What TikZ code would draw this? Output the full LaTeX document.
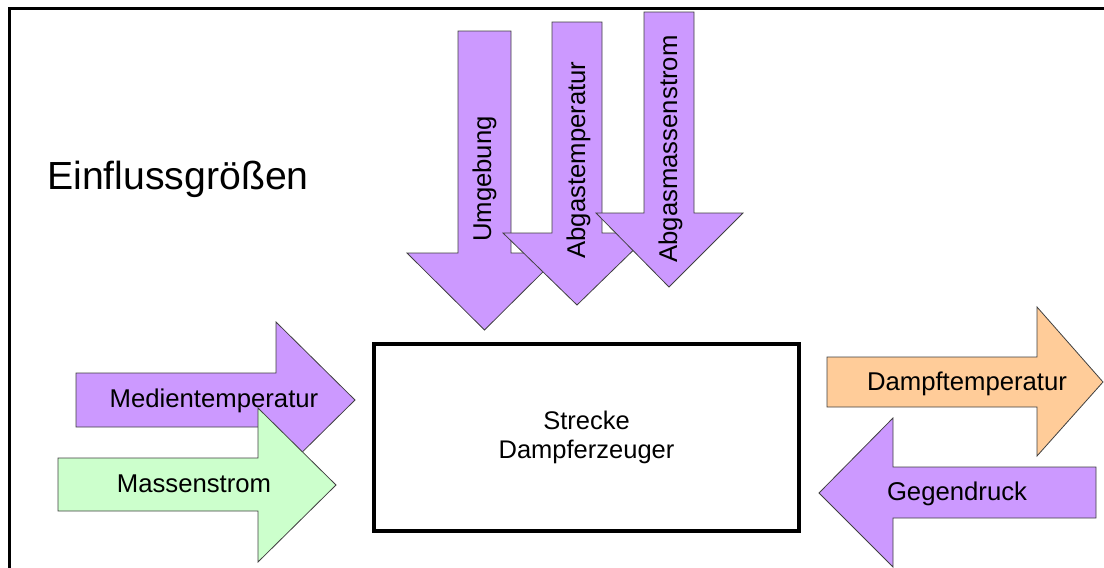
\documentclass[tikz,border=0pt]{standalone}
\usepackage{fontspec}
\setmainfont{Liberation Sans}
\usepackage{xcolor}
\usepackage{tikz}
\usetikzlibrary{positioning}

\definecolor{pfLila}{HTML}{CC99FF}
\definecolor{pfGruen}{HTML}{CCFFCC}
\definecolor{pfOrange}{HTML}{FFCC99}

\begin{document}
\begin{tikzpicture}[
  x=1pt, y=-1pt,
  pfeil/.style={draw=black!75, line width=0.8pt},
  beschr/.style={font=\fontsize{25.7}{30}\selectfont, inner sep=0pt, anchor=base},
  block/.style={draw, line width=4pt, align=center, font=\fontsize{25.5}{29.5}\selectfont,
    minimum width=425pt, minimum height=187pt}
]
\useasboundingbox (0,0) rectangle (1104,568);

% frame
\draw[line width=3pt] (9,568) -- (9,8) -- (1104,8);

\node[font=\fontsize{39.2}{45}\selectfont, inner sep=0pt, anchor=base west] (titel) at (47,189) {Einflussgrößen};

% inputs from top
\draw[pfeil, fill=pfLila] (458,31) -- (511,31) -- (511,253) -- (562,253) -- (484.5,330) -- (407,253) -- (458,253) -- cycle;
\node[beschr, rotate=90] (umg) at (491,179) {Umgebung};
\draw[pfeil, fill=pfLila] (552,22) -- (602,22) -- (602,233) -- (651,233) -- (577,305) -- (503,233) -- (552,233) -- cycle;
\node[beschr, rotate=90] (agt) at (585,160) {Abgastemperatur};
\draw[pfeil, fill=pfLila] (644,12) -- (694,12) -- (694,213) -- (743,213) -- (669,287) -- (596,213) -- (644,213) -- cycle;
\node[beschr, rotate=90] (agm) at (677,149) {Abgasmassenstrom};

% inputs from left
\draw[pfeil, fill=pfLila] (76,373) -- (276,373) -- (276,322) -- (355,400) -- (276,478) -- (276,427) -- (76,427) -- cycle;
\node[beschr] (med) at (214,407) {Medientemperatur};
\draw[pfeil, fill=pfGruen] (58,458) -- (258,458) -- (258,408) -- (336,485) -- (258,562) -- (258,511) -- (58,511) -- cycle;
\node[beschr] (mas) at (194,492) {Massenstrom};

% plant
\node[block] (strecke) at (586.5,437.5) {Strecke\\Dampferzeuger};

% right side
\draw[pfeil, fill=pfOrange] (827,357) -- (1037,357) -- (1037,307) -- (1103,382) -- (1037,456) -- (1037,407) -- (827,407) -- cycle;
\node[beschr] (dt) at (967,390) {Dampftemperatur};
\draw[pfeil, fill=pfLila] (1096,467) -- (893,467) -- (893,418) -- (819,493) -- (893,567) -- (893,518) -- (1096,518) -- cycle;
\node[beschr] (gd) at (957,500) {Gegendruck};
\end{tikzpicture}
\end{document}
